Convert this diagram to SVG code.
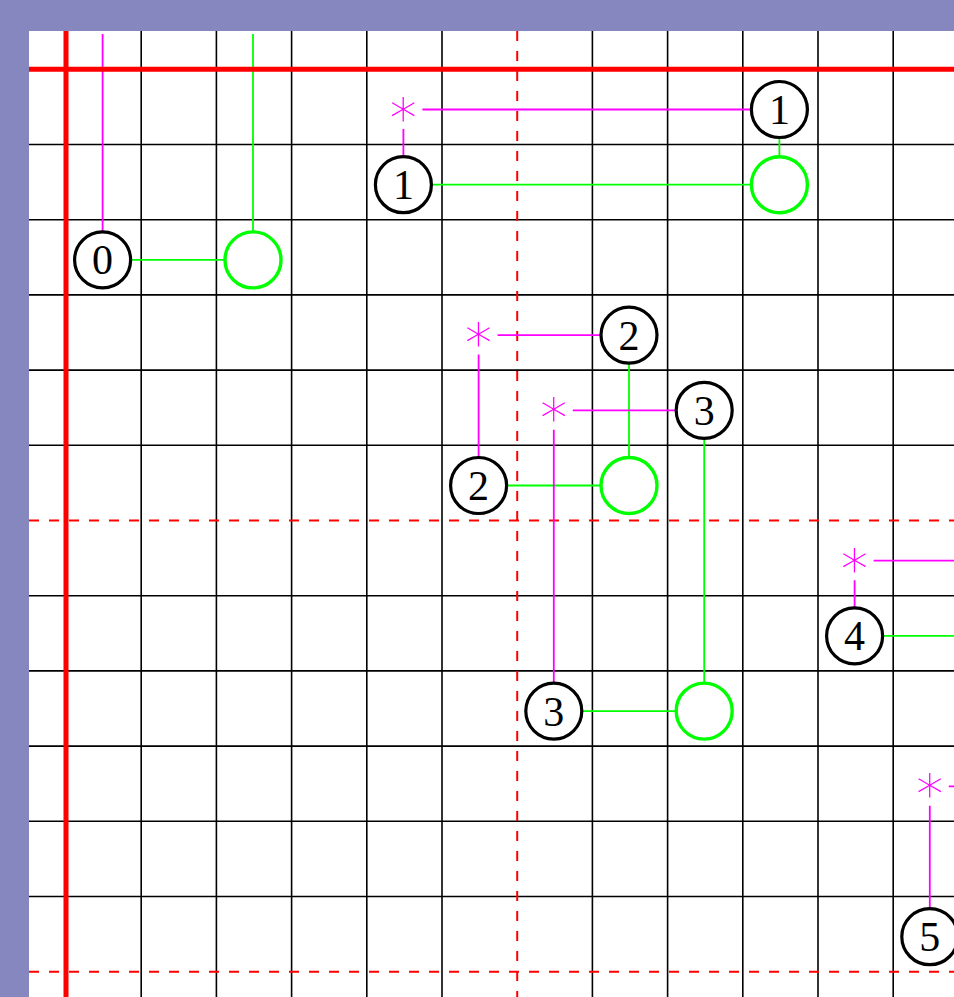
<svg xmlns="http://www.w3.org/2000/svg" width="954" height="997" viewBox="0 0 954 997">
<style>
.grid{stroke:#000;stroke-width:1.6;fill:none}
.rdash{stroke:#f00;stroke-width:2;stroke-dasharray:10 10;fill:none}
.rthick{stroke:#f00;stroke-width:5;fill:none}
.mag{stroke:#f0f;stroke-width:1.8;fill:none}
.grn{stroke:#0f0;stroke-width:1.8;fill:none}
.bn{stroke:#000;stroke-width:3.2;fill:#fff}
.gn{stroke:#0f0;stroke-width:3.4;fill:#fff}
.lbl{font-family:"Liberation Serif","DejaVu Serif",serif;font-size:42px;text-anchor:middle;fill:#000}
.ast{font-family:"DejaVu Sans",sans-serif;font-weight:200;font-size:54px;text-anchor:middle;fill:#f0f}
</style>
<rect x="0" y="0" width="954" height="997" fill="#fff"/>
<g id="grid">
<path class="grid" d="M141.2 31V997M216.4 31V997M291.6 31V997M366.8 31V997M442 31V997M592.4 31V997M667.6 31V997M742.8 31V997M818 31V997M893.2 31V997"/>
<path class="grid" d="M29 144.5H954M29 219.7H954M29 294.9H954M29 370.1H954M29 445.3H954M29 595.7H954M29 670.9H954M29 746.1H954M29 821.3H954M29 896.5H954"/>
<path class="rdash" d="M517.2 31V997M29 520.5H954M29 971.7H954"/>
</g>
<g id="connectors">
<path class="mag" d="M102.6 34V259.9"/>
<path class="grn" d="M253 34V259.9M102.6 259.9H253"/>
<path class="mag" d="M422.4 109.5H779.4M403.4 129V184.7"/>
<path class="grn" d="M403.4 184.7H779.4M779.4 109.5V184.7"/>
<path class="mag" d="M497.6 335.1H629M478.6 354.6V485.5"/>
<path class="grn" d="M478.6 485.5H629M629 335.1V485.5"/>
<path class="mag" d="M572.8 410.3H704.2M553.8 429.8V711.1"/>
<path class="grn" d="M553.8 711.1H704.2M704.2 410.3V711.1"/>
<path class="mag" d="M873.6 560.7H954M854.6 580.2V635.9"/>
<path class="grn" d="M854.6 635.9H954"/>
<path class="mag" d="M948.8 786.3H954M929.8 805.8V936.7"/>
</g>
<path class="rthick" d="M66 31V997M29 69.3H954"/>
<g id="n0"><circle class="bn" cx="102.6" cy="259.9" r="28"/><text class="lbl" x="102.6" y="274.4">0</text></g>
<g id="g0"><circle class="gn" cx="253" cy="259.9" r="28"/></g>
<g id="s1"><text class="ast" x="403.4" y="125.5">∗</text></g>
<g id="n1a"><circle class="bn" cx="779.4" cy="109.5" r="28"/><text class="lbl" x="779.4" y="124">1</text></g>
<g id="n1b"><circle class="bn" cx="403.4" cy="184.7" r="28"/><text class="lbl" x="403.4" y="199.2">1</text></g>
<g id="g1"><circle class="gn" cx="779.4" cy="184.7" r="28"/></g>
<g id="s2"><text class="ast" x="478.6" y="351.1">∗</text></g>
<g id="n2a"><circle class="bn" cx="629" cy="335.1" r="28"/><text class="lbl" x="629" y="349.6">2</text></g>
<g id="n2b"><circle class="bn" cx="478.6" cy="485.5" r="28"/><text class="lbl" x="478.6" y="500">2</text></g>
<g id="g2"><circle class="gn" cx="629" cy="485.5" r="28"/></g>
<g id="s3"><text class="ast" x="553.8" y="426.3">∗</text></g>
<g id="n3a"><circle class="bn" cx="704.2" cy="410.3" r="28"/><text class="lbl" x="704.2" y="424.8">3</text></g>
<g id="n3b"><circle class="bn" cx="553.8" cy="711.1" r="28"/><text class="lbl" x="553.8" y="725.6">3</text></g>
<g id="g3"><circle class="gn" cx="704.2" cy="711.1" r="28"/></g>
<g id="s4"><text class="ast" x="854.6" y="576.7">∗</text></g>
<g id="n4"><circle class="bn" cx="854.6" cy="635.9" r="28"/><text class="lbl" x="854.6" y="650.4">4</text></g>
<g id="s5"><text class="ast" x="929.8" y="802.3">∗</text></g>
<g id="n5"><circle class="bn" cx="929.8" cy="936.7" r="28"/><text class="lbl" x="929.8" y="951.2">5</text></g>
<g id="frame">
<rect x="0" y="0" width="954" height="31" fill="#8787C0"/>
<rect x="0" y="0" width="29" height="997" fill="#8787C0"/>
</g>
</svg>
